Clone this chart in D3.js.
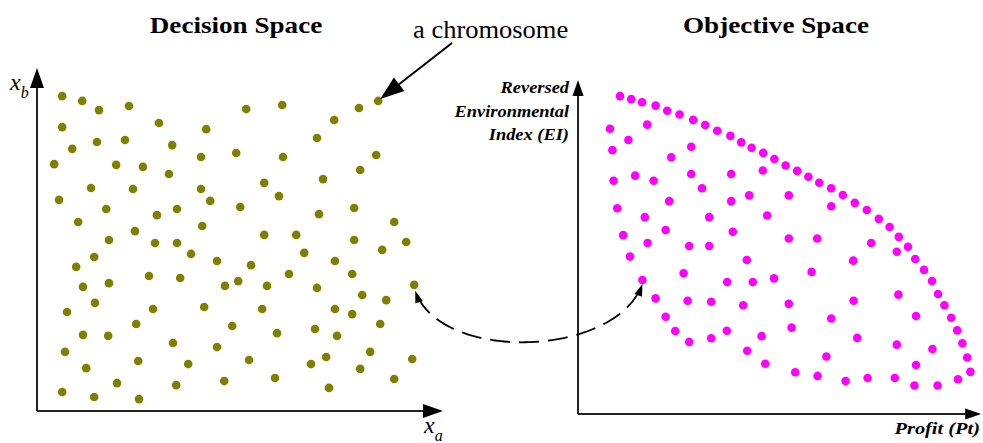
<!DOCTYPE html>
<html>
<head>
<meta charset="utf-8">
<script src="https://cdn.jsdelivr.net/npm/d3@7"></script>
<style>
  body { margin: 0; background: #fff; }
  svg text { font-family: "Liberation Serif", "Times New Roman", serif; }
</style>
</head>
<body>
<div id="chart"></div>
<script>
// decision space: [xa, xb] of each chromosome (arbitrary units 0-100)
const decisionPoints = [
  [6.3,92.6],[11.3,91.2],[15.5,88.5],[23,89.7],[30.5,84.7],[42.3,82.9],[6.3,83.5],[15,79.1],
  [22,79.7],[33.8,78.2],[8.8,77.1],[41,74.7],[4.3,72.6],[19.8,72.4],[26.5,71.8],[33,69.7],
  [13.5,65.6],[24,65.3],[41,65.3],[43.3,61.8],[5.5,62.1],[17.3,59.4],[30,57.6],[35,59.4],
  [10.3,55.6],[41.3,54.4],[24.5,52.9],[18,50.3],[29.5,49.4],[35,49.4],[52.3,88.8],[61.3,90],
  [80.5,89.1],[85.3,91.2],[74.3,85.6],[70,80.3],[49.8,75.9],[61.5,74.7],[84.8,75.3],[80.8,70.9],
  [56.8,67.1],[71.5,68.2],[50.8,60],[60.5,63.2],[70.5,57.9],[79.3,59.7],[89.3,55.6],[56.8,51.8],
  [64.8,51.8],[79.3,50.3],[92.3,49.7],[86.3,47.4],[66.8,46.5],[38.5,46.2],[45,44.1],[14.3,45.3],
  [9.8,42.4],[28,39.7],[35.8,39.1],[11.5,36.5],[18,37.6],[14.5,31.8],[7.5,29.1],[29,30],
  [41.8,30.6],[24.8,25.6],[11.5,22.4],[17.8,22.1],[7,17.4],[34,20],[45,18.8],[25.3,14.7],
  [37.8,13.8],[12.3,12.6],[20,8.2],[34.8,7.6],[6.3,5.6],[14.3,4.1],[25.5,3.5],[53.5,42.9],
  [74.5,44.1],[63,40.3],[78.8,40.3],[47,36.8],[50.3,38.2],[57.5,36.8],[70,36.2],[81.3,34.1],
  [87.3,32.6],[94.3,37.1],[56.3,30],[74.5,30],[78.8,28.5],[48.8,25],[60,22.9],[69.5,24.1],
  [75,22.1],[85.8,25.6],[53,15],[68.5,13.8],[72.3,15.9],[83.3,17.4],[93.8,15.3],[80.8,12.4],
  [46.8,8.8],[59.5,9.7],[73,6.8],[89.3,9.4]
];

// objective space: [profit, reversed EI] (arbitrary units 0-100)
const objectivePoints = [
  // pareto front
  [10.5,93.5],[13.3,92.6],[16,91.7],[19.4,90.7],[22.3,89.2],[25.4,88.1],[28.8,86.5],[31.8,85],
  [34.8,83.3],[38.1,81.8],[40.8,79.9],[43.4,78.3],[46.3,76.8],[49.1,75],[51.9,73.1],[54.8,71.5],
  [57.6,69.8],[60.3,68],[63.3,66.4],[66.2,64.4],[69.2,62.1],[72.2,60],[75.2,57.4],[77.9,55],
  [80.2,52.1],[82.5,49.2],[84.3,45.6],[86.5,42.4],[88.5,39.1],[90,35.3],[91.6,32],[93.3,28.3],
  [94.8,24.6],[96.1,20.8],[97.3,16.6],[98.1,12.4],[95,10.2],[89.9,8.4],[84.1,8.4],[79.2,10.6],
  [72.4,10.6],[66.9,9.7],[59.9,11.2],[54.3,12.3],
  // inner points
  [8,83.9],[17.3,85.1],[12.6,80.6],[8.6,77.6],[28.3,78.6],[23.3,75.5],[8.9,68.6],[14.3,70.1],
  [18.9,68.6],[28.3,70.6],[38.3,70.6],[46.2,71.6],[31,66.4],[42.8,64.3],[52.7,64.3],[9.8,60.5],
  [22.8,62.6],[38.3,62.6],[63.3,61.1],[16.7,57.9],[32.8,57.9],[47.3,58.4],[11.3,52.6],[21.9,54.1],
  [38.7,53.6],[52.7,51.6],[59.8,51.6],[73.3,50.3],[17.4,50.3],[27.8,49.4],[32.8,49.4],[79.7,47.7],
  [13,46.3],[42.2,45.3],[68.8,45.1],[58.4,41.8],[26.4,41.4],[49,39.9],[16.1,39.4],[37.3,38.8],
  [43.7,38.8],[19.4,34],[27.4,33.3],[33.3,33],[41.3,32],[52.7,32.4],[68.9,33.3],[80.1,35.1],
  [21.9,28.6],[63.3,28.1],[84.5,28.8],[53.4,25.4],[24.3,24.4],[37.2,24.5],[45.9,22.9],[69.8,22.4],
  [33.3,22.3],[27.8,21.2],[79.7,20.4],[88.6,19.1],[42.3,18.6],[62.1,16.9],[46.8,14.8],[84.5,14.4]
];

const chromosomeIndex = 33;   // the labelled chromosome
const mappedFrom = [94.3, 37.1]; // decision point that is mapped...
const mappedTo = [16.1, 39.4];   // ...to this objective point

const titles = ["Decision Space", "Objective Space"];
const eiLabel = ["Reversed", "Environmental", "Index (EI)"];
const profitLabel = "Profit (Pt)";

const width = 983, height = 443;

const svg = d3.select("#chart").append("svg")
  .attr("width", width).attr("height", height);

const xL = d3.scaleLinear().domain([0, 100]).range([37, 437]);
const yL = d3.scaleLinear().domain([0, 100]).range([411, 71]);
const xR = d3.scaleLinear().domain([0, 100]).range([578, 978]);
const yR = d3.scaleLinear().domain([0, 100]).range([414, 74]);

// filled triangle arrow head, tip at (x,y), pointing along angle
function arrowHead(g, x, y, angle, len, w) {
  const c = Math.cos(angle), s = Math.sin(angle);
  const bx = x - c * len, by = y - s * len;
  const px = -s * w / 2, py = c * w / 2;
  g.append("path")
    .attr("d", `M${x},${y}L${bx + px},${by + py}L${bx - px},${by - py}Z`)
    .attr("fill", "#000");
}

function drawAxes(x, y, xEnd, yEnd, headLen, headW) {
  const g = svg.append("g");
  g.append("line")
    .attr("x1", x(0)).attr("y1", y(0)).attr("x2", x(xEnd) - 4).attr("y2", y(0))
    .attr("stroke", "#222").attr("stroke-width", 2);
  g.append("line")
    .attr("x1", x(0)).attr("y1", y(0)).attr("x2", x(0)).attr("y2", y(yEnd) + 4)
    .attr("stroke", "#222").attr("stroke-width", 2);
  arrowHead(g, x(xEnd), y(0), 0, headLen, headW);
  arrowHead(g, x(0), y(yEnd), -Math.PI / 2, headLen, headW);
}

drawAxes(xL, yL, 101.5, 100.9, 20, 14);
drawAxes(xR, yR, 100.8, 98.2, 16, 11);

// points
svg.append("g")
  .selectAll("circle")
  .data(decisionPoints)
  .join("circle")
  .attr("cx", d => xL(d[0]))
  .attr("cy", d => yL(d[1]))
  .attr("r", 4.3)
  .attr("fill", "#808000");

svg.append("g")
  .selectAll("circle")
  .data(objectivePoints)
  .join("circle")
  .attr("cx", d => xR(d[0]))
  .attr("cy", d => yR(d[1]))
  .attr("r", 4.3)
  .attr("fill", "#ff00ff");

// text helper: the source text is a little stretched sideways
function label(g, str, x, y, size, sx, opts = {}) {
  return g.append("text")
    .attr("transform", `translate(${x},${y}) scale(${sx},1)`)
    .attr("font-size", size)
    .attr("font-weight", opts.bold ? "bold" : null)
    .attr("font-style", opts.italic ? "italic" : null)
    .attr("text-anchor", opts.anchor || "start")
    .text(str);
}

// titles
label(svg, titles[0], 236, 33, 24, 1.13, { bold: true, anchor: "middle" });
label(svg, titles[1], 776, 33, 24, 1.13, { bold: true, anchor: "middle" });

// axis labels left
const xb = svg.append("text").attr("x", 10).attr("y", 90)
  .attr("font-size", 24).attr("font-style", "italic");
xb.append("tspan").text("x");
xb.append("tspan").attr("dy", 8).attr("font-size", 16).text("b");

const xa = svg.append("text").attr("x", 424).attr("y", 433)
  .attr("font-size", 24).attr("font-style", "italic");
xa.append("tspan").text("x");
xa.append("tspan").attr("dy", 8).attr("font-size", 16).text("a");

// axis labels right
eiLabel.forEach((d, i) =>
  label(svg, d, 569, 93 + i * 23.5, 16, 1.15, { bold: true, italic: true, anchor: "end" }));

label(svg, profitLabel, 980, 434, 17, 1.2, { bold: true, italic: true, anchor: "end" });

// "a chromosome" label and arrow
label(svg, "a chromosome", 413, 38, 25, 1.06);

const chrom = decisionPoints[chromosomeIndex];
const tipX = xL(chrom[0]) + 2, tipY = yL(chrom[1]) - 2;
const startX = 452, startY = 43;
const ang = Math.atan2(tipY - startY, tipX - startX);
svg.append("line")
  .attr("x1", startX).attr("y1", startY)
  .attr("x2", tipX - Math.cos(ang) * 15).attr("y2", tipY - Math.sin(ang) * 15)
  .attr("stroke", "#000").attr("stroke-width", 2);
arrowHead(svg, tipX, tipY, ang, 24, 17);

// dashed mapping curve
const p0 = [xL(mappedFrom[0]) + 1, yL(mappedFrom[1]) + 6];
const p3 = [xR(mappedTo[0]), yR(mappedTo[1]) + 4];
const c1 = [p0[0] + 25, p0[1] + 72];
const c2 = [p3[0] - 27, p3[1] + 74];

const bez = (t, i) => (1 - t) ** 3 * p0[i] + 3 * (1 - t) ** 2 * t * c1[i]
  + 3 * (1 - t) * t * t * c2[i] + t ** 3 * p3[i];
// trim ends a bit so the heads sit on the tips
const pts = d3.range(0.03, 0.9701, 0.01).map(t => [bez(t, 0), bez(t, 1)]);
svg.append("path")
  .attr("d", d3.line()(pts))
  .attr("fill", "none")
  .attr("stroke", "#000")
  .attr("stroke-width", 1.8)
  .attr("stroke-dasharray", "20,9");

arrowHead(svg, p0[0], p0[1], Math.atan2(p0[1] - c1[1], p0[0] - c1[0]), 12, 8);
arrowHead(svg, p3[0], p3[1], Math.atan2(p3[1] - c2[1], p3[0] - c2[0]), 12, 8);
</script>
</body>
</html>
